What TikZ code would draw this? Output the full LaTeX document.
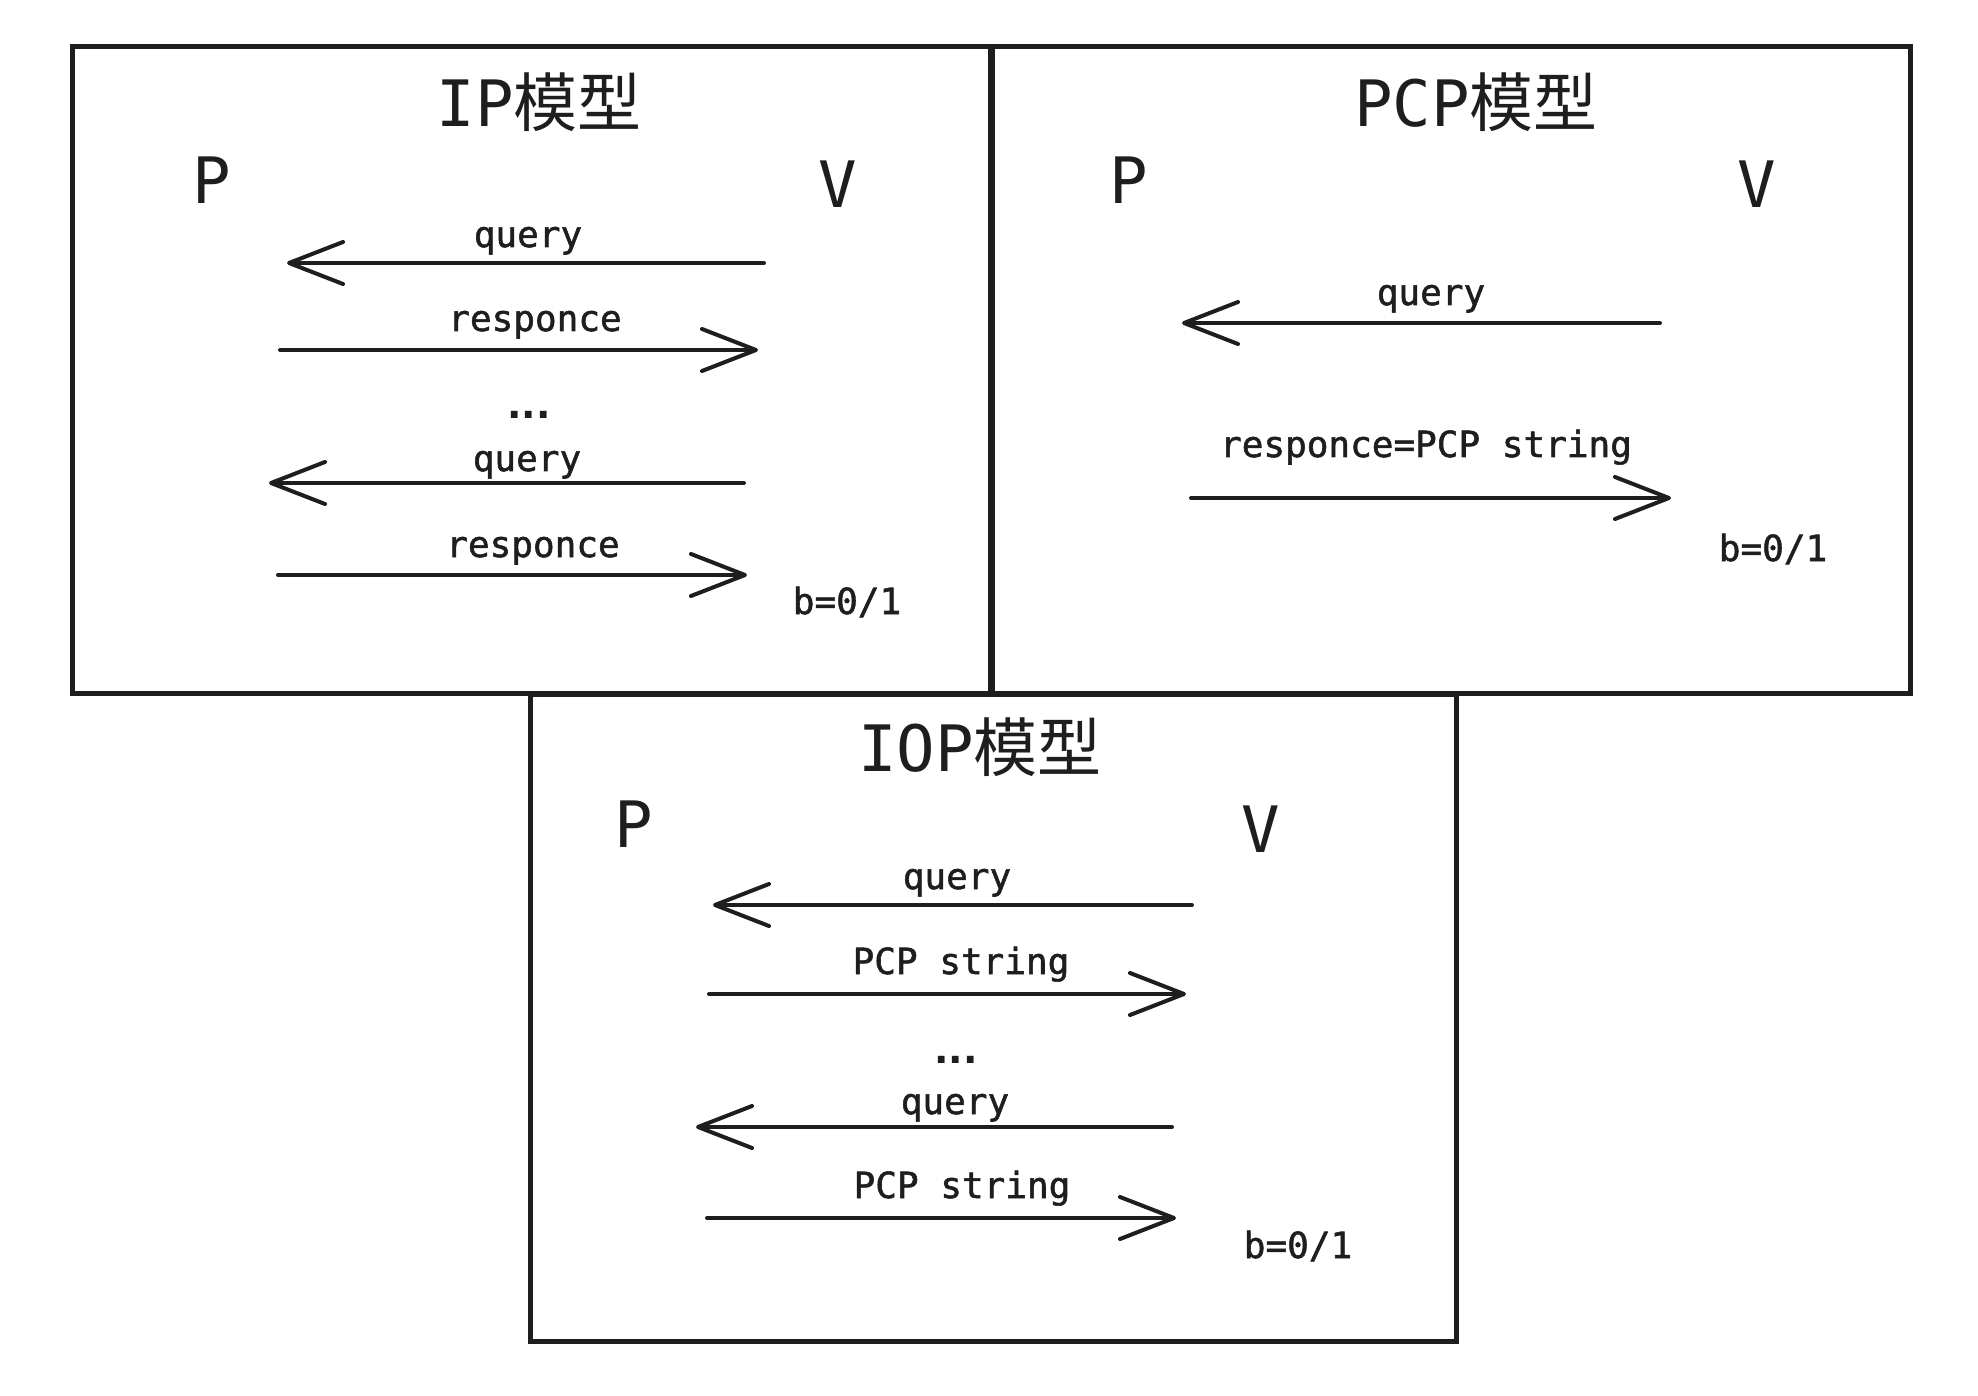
\documentclass[tikz,border=0pt]{standalone}
\usepackage{fontspec}
\usetikzlibrary{arrows.meta}
\newfontfamily\monof{DejaVu Sans Mono}
\newfontfamily\monofb[FakeBold=1.5]{DejaVu Sans Mono}
\newfontfamily\dotf{DejaVu Sans Bold}
\newfontfamily\cjkf{Noto Sans CJK SC}
\definecolor{ink}{RGB}{30,30,30}
\tikzset{
  x=0.5pt, y=-0.5pt,
  panel/.style={draw=ink, line width=2.5pt},
  lbl/.style={text=ink, inner sep=0pt, anchor=base, font=\monofb\fontsize{18}{22}\selectfont},
  dotlbl/.style={text=ink, inner sep=0pt, anchor=base, font=\dotf\fontsize{19}{22}\selectfont},
  party/.style={text=ink, inner sep=0pt, font=\monof\fontsize{32}{38}\selectfont},
  ttl/.style={text=ink, inner sep=0pt, font=\fontsize{32}{38}\selectfont},
  msg/.style={draw=ink, line width=2pt, line cap=round,
    -{Straight Barb[length=27pt, width=21pt, round]}},
}
\begin{document}
\begin{tikzpicture}
\useasboundingbox (0,0) rectangle (1978,1396);
% panels
\draw[panel] (72,47) rectangle (990,693);
\draw[panel] (992,47) rectangle (1910,693);
\draw[panel] (530,694) rectangle (1456,1341);

% ---------- IP model ----------
\node[ttl] (t1) at (539,102) {{\monof IP}{\cjkf 模型}};
\node[party] (p1) at (212,180) {P};
\node[party] (v1) at (838,184) {V};
\node[lbl] (q1a) at (528,247) {query};
\coordinate (a1s) at (764,263); \coordinate (a1e) at (287,263);
\draw[msg] (a1s) -- (a1e);
\node[lbl] (r1a) at (535,331) {responce};
\coordinate (a2s) at (280,350); \coordinate (a2e) at (758,350);
\draw[msg] (a2s) -- (a2e);
\node[dotlbl] (d1) at (529,419) {...};
\node[lbl] (q1b) at (527,471) {query};
\coordinate (a3s) at (744,483); \coordinate (a3e) at (269,483);
\draw[msg] (a3s) -- (a3e);
\node[lbl] (r1b) at (533,557) {responce};
\coordinate (a4s) at (278,575); \coordinate (a4e) at (747,575);
\draw[msg] (a4s) -- (a4e);
\node[lbl] (b1) at (847,614) {b=0/1};

% ---------- PCP model ----------
\node[ttl] (t2) at (1476,102) {{\monof PCP}{\cjkf 模型}};
\node[party] (p2) at (1129,180) {P};
\node[party] (v2) at (1757,184) {V};
\node[lbl] (q2) at (1431,305) {query};
\coordinate (b1s) at (1660,323); \coordinate (b1e) at (1182,323);
\draw[msg] (b1s) -- (b1e);
\node[lbl] (r2) at (1426,457) {responce=PCP string};
\coordinate (b2s) at (1191,498); \coordinate (b2e) at (1671,498);
\draw[msg] (b2s) -- (b2e);
\node[lbl] (b2) at (1773,561) {b=0/1};

% ---------- IOP model ----------
\node[ttl] (t3) at (980,747) {{\monof IOP}{\cjkf 模型}};
\node[party] (p3) at (634,824) {P};
\node[party] (v3) at (1261,829) {V};
\node[lbl] (q3a) at (957,889) {query};
\coordinate (c1s) at (1192,905); \coordinate (c1e) at (713,905);
\draw[msg] (c1s) -- (c1e);
\node[lbl] (s3a) at (961,974) {PCP string};
\coordinate (c2s) at (709,994); \coordinate (c2e) at (1186,994);
\draw[msg] (c2s) -- (c2e);
\node[dotlbl] (d3) at (956,1063) {...};
\node[lbl] (q3b) at (955,1114) {query};
\coordinate (c3s) at (1172,1127); \coordinate (c3e) at (696,1127);
\draw[msg] (c3s) -- (c3e);
\node[lbl] (s3b) at (962,1198) {PCP string};
\coordinate (c4s) at (707,1218); \coordinate (c4e) at (1176,1218);
\draw[msg] (c4s) -- (c4e);
\node[lbl] (b3) at (1298,1258) {b=0/1};
\end{tikzpicture}
\end{document}
